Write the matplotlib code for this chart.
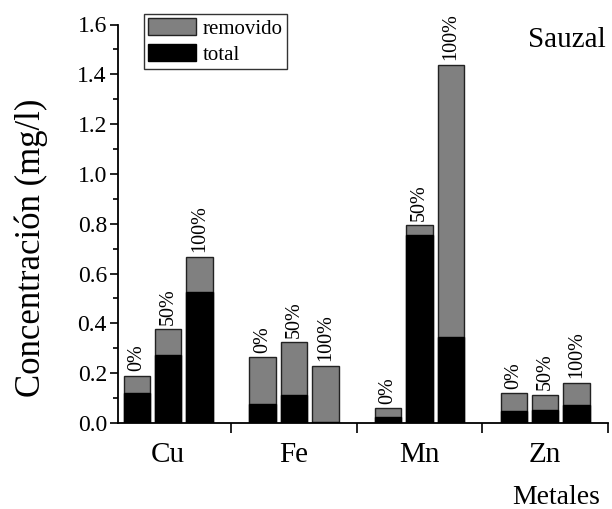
import numpy as np
import matplotlib
matplotlib.use("Agg")
import matplotlib.pyplot as plt
from matplotlib.ticker import MultipleLocator, FixedLocator

plt.rcParams['font.family'] = ['Liberation Serif', 'DejaVu Serif']

# Metals and treatment levels
metales = ["Cu", "Fe", "Mn", "Zn"]
niveles = ["0%", "50%", "100%"]

# Concentrations (mg/l) per metal, one value per level
removido = {
    "Cu": [0.190, 0.376, 0.668],
    "Fe": [0.264, 0.325, 0.229],
    "Mn": [0.059, 0.795, 1.438],
    "Zn": [0.119, 0.114, 0.162],
}
total = {
    "Cu": [0.119, 0.274, 0.527],
    "Fe": [0.076, 0.113, 0.004],
    "Mn": [0.023, 0.755, 0.347],
    "Zn": [0.049, 0.052, 0.072],
}

fig = plt.figure(figsize=(6.12, 5.09), dpi=100)
ax = fig.add_axes([118 / 612, 1 - 423 / 509, 490 / 612, 398.5 / 509])

x = np.arange(1, len(metales) + 1)
offsets = np.array([-0.25, 0.0, 0.25])
width = 0.21

for i, m in enumerate(metales):
    pos = x[i] + offsets
    ax.bar(pos, removido[m], width=width, color="#808080",
           edgecolor="#222222", linewidth=1.0, zorder=2,
           label="removido" if i == 0 else None)
    ax.bar(pos, total[m], width=width, color="black",
           edgecolor="black", linewidth=1.0, zorder=3,
           label="total" if i == 0 else None)
    for p, h, lab in zip(pos, removido[m], niveles):
        ax.text(p, h + 0.018, lab, rotation=90, ha="center", va="bottom",
                fontsize=14.5)

ax.set_xlim(0.6, 4.5)
ax.set_ylim(0, 1.6)

ax.spines["top"].set_visible(False)
ax.spines["right"].set_visible(False)
ax.spines["left"].set_linewidth(1.3)
ax.spines["bottom"].set_linewidth(1.3)

yticks = np.arange(0, 1.61, 0.2)
ax.set_yticks(yticks)
ax.set_yticklabels([f"{v:.1f}" for v in yticks])
ax.yaxis.set_minor_locator(MultipleLocator(0.1))

# group boundaries as major ticks, group names centred between them
ax.xaxis.set_major_locator(FixedLocator([1.5, 2.5, 3.5, 4.5]))
ax.xaxis.set_minor_locator(FixedLocator(x))
ax.xaxis.set_major_formatter(plt.NullFormatter())
ax.xaxis.set_minor_formatter(plt.FixedFormatter(metales))

ax.tick_params(axis="y", which="major", direction="out", length=6,
               width=1.2, labelsize=17, pad=2)
ax.tick_params(axis="y", which="minor", direction="out", length=3.5,
               width=1.2)
ax.tick_params(axis="x", which="major", direction="out", length=7,
               width=1.2)
ax.tick_params(axis="x", which="minor", length=0, labelsize=21, pad=14)

ax.set_ylabel("Concentración (mg/l)", fontsize=25)
ax.yaxis.set_label_coords(-0.143, 0.44)

ax.text(0.996, 0.962, "Sauzal", transform=ax.transAxes, ha="right",
        va="center", fontsize=21)
fig.text(600 / 612, 1 - 497 / 509, "Metales", ha="right", va="center",
         fontsize=20)

leg = ax.legend(loc="upper left", bbox_to_anchor=(144 / 612, 1 - 14 / 509),
                bbox_transform=fig.transFigure, fontsize=15, frameon=True,
                fancybox=False, borderaxespad=0, borderpad=0.2,
                handlelength=2.3, handleheight=0.9, handletextpad=0.3,
                labelspacing=0.25)
leg.get_frame().set_edgecolor("black")
leg.get_frame().set_linewidth(1.0)

fig.savefig("out.png", dpi=100)
